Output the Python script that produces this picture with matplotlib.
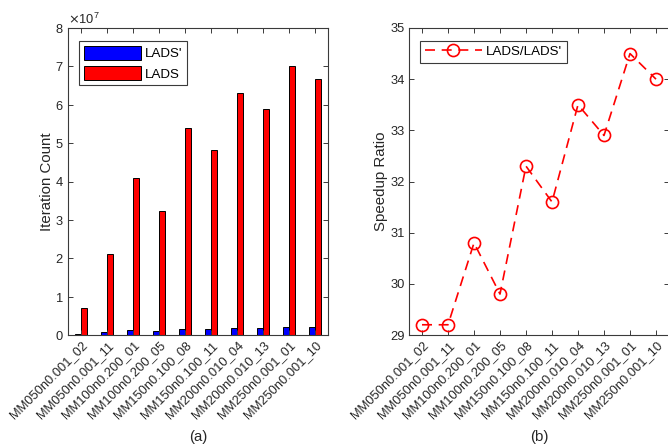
import matplotlib
matplotlib.use("Agg")
import matplotlib.pyplot as plt
import numpy as np
from matplotlib.ticker import ScalarFormatter

plt.rcParams['font.family'] = ['Liberation Sans', 'DejaVu Sans']

categories = ["MM050n0.001_02", "MM050n0.001_11", "MM100n0.200_01", "MM100n0.200_05",
              "MM150n0.100_08", "MM150n0.100_11", "MM200n0.010_04", "MM200n0.010_13",
              "MM250n0.001_01", "MM250n0.001_10"]
lads_prime = [0.24e6, 0.72e6, 1.33e6, 1.08e6, 1.67e6, 1.53e6, 1.88e6, 1.79e6, 2.03e6, 1.96e6]
lads = [7.0e6, 21.0e6, 41.0e6, 32.2e6, 54.0e6, 48.2e6, 63.0e6, 59.0e6, 70.2e6, 66.8e6]
speedup = [29.2, 29.2, 30.8, 29.8, 32.3, 31.6, 33.5, 32.9, 34.5, 34.0]

W, H = 668, 446
fig = plt.figure(figsize=(W / 100, H / 100), dpi=100)

def axrect(x0, y0, x1, y1):
    return [x0 / W, 1 - y1 / H, (x1 - x0) / W, (y1 - y0) / H]

dark = '#262626'
spine_c = '#3a3a3a'
fs = 9.3
lfs = 9.6
yfs = 10.8

x = np.arange(1, len(categories) + 1)

def style(ax):
    for s in ax.spines.values():
        s.set_color(spine_c)
        s.set_linewidth(0.8)
    ax.tick_params(direction='in', length=3.5, width=0.7, colors=spine_c,
                   labelcolor=dark, labelsize=fs, top=True, right=True, pad=3)
    ax.set_xticks(x)
    ax.set_xticklabels(categories, rotation=45, ha='right', rotation_mode='anchor')
    ax.set_xlim(0.5, 10.5)

# (a)
ax1 = fig.add_axes(axrect(68, 28, 328, 335))
bw = 0.22
ax1.bar(x - 0.11, lads_prime, width=bw, color='#0000ff', edgecolor='black', linewidth=0.7, label="LADS'")
ax1.bar(x + 0.11, lads, width=bw, color='#ff0000', edgecolor='black', linewidth=0.7, label="LADS")
style(ax1)
ax1.set_ylim(0, 8e7)
ax1.set_yticks(np.arange(0, 9) * 1e7)
fmt = ScalarFormatter(useMathText=True)
fmt.set_powerlimits((0, 0))
ax1.yaxis.set_major_formatter(fmt)
ax1.yaxis.get_offset_text().set_fontsize(fs)
ax1.yaxis.get_offset_text().set_color(dark)
ax1.set_ylabel("Iteration Count", fontsize=yfs, color=dark, labelpad=0.5)
leg1 = ax1.legend(loc='upper left', bbox_to_anchor=(0.042, 0.958), fontsize=lfs,
                  handlelength=4.3, handleheight=1.25, fancybox=False, framealpha=1,
                  edgecolor=spine_c, borderaxespad=0, borderpad=0.35, labelspacing=0.45,
                  handletextpad=0.3)
leg1.get_frame().set_linewidth(0.8)

# (b)
ax2 = fig.add_axes(axrect(409, 28, 669, 335))
ax2.plot(x, speedup, linestyle=(0, (6, 4)), color='#ff0000', linewidth=1.2,
         marker='o', markersize=8.7, markerfacecolor='none', markeredgecolor='#ff0000',
         markeredgewidth=1.2, label="LADS/LADS'")
style(ax2)
ax2.set_ylim(29, 35)
ax2.set_yticks(np.arange(29, 36))
ax2.set_ylabel("Speedup Ratio", fontsize=yfs, color=dark, labelpad=1.5)
leg2 = ax2.legend(loc='upper left', bbox_to_anchor=(0.042, 0.958), fontsize=lfs,
                  handlelength=4.3, fancybox=False, framealpha=1,
                  edgecolor=spine_c, borderaxespad=0, borderpad=0.35, handletextpad=0.3)
leg2.get_frame().set_linewidth(0.8)

fig.text(198 / W, 1 - 437 / H, "(a)", ha='center', va='center', fontsize=yfs, color=dark)
fig.text(539 / W, 1 - 437 / H, "(b)", ha='center', va='center', fontsize=yfs, color=dark)

fig.savefig("out.png", dpi=100)
